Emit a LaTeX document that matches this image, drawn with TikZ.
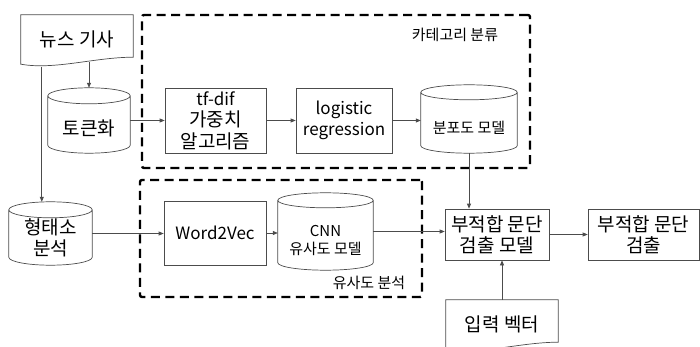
\documentclass[tikz,border=0pt]{standalone}
\usepackage{fontspec}
\setmainfont{Noto Sans CJK KR}
\usetikzlibrary{arrows.meta,calc}

% Latin words inside the large labels are set a little smaller
\newcommand\latin[1]{{\fontsize{17}{21.5}\selectfont #1}}

% cylinder outline around a named node: #1 node, #2 half height of the end ellipses
\newcommand\cyloutline[2]{%
  \draw[line] let \p1=(#1.north west), \p2=(#1.south east) in
    (\x1,\y1-#2) -- (\x1,\y2+#2)
    arc[start angle=180,end angle=360,x radius={(\x2-\x1)/2},y radius=#2]
    -- (\x2,\y1-#2)
    arc[start angle=0,end angle=180,x radius={(\x2-\x1)/2},y radius=#2]
    -- cycle
    (\x1,\y1-#2)
    arc[start angle=180,end angle=360,x radius={(\x2-\x1)/2},y radius=#2];}

% document outline (flat top, wavy bottom) around a named node
\newcommand\docoutline[1]{%
  \draw[line] let \p1=(#1.north west), \p2=(#1.south east) in
    (\x1,\y1) -- (\x2,\y1) -- (\x2,{\y2+7pt})
    .. controls ({\x2-0.34*(\x2-\x1)},{\y2+7pt}) and ({\x1+0.3*(\x2-\x1)},{\y2-6pt}) ..
    (\x1,\y2) -- cycle;}

\tikzset{
  line/.style={draw=black!70, line width=0.7pt},
  arr/.style={line, -{Triangle[length=5pt,width=4pt]}},
  bigtxt/.style={font=\fontsize{19}{21.5}\selectfont, align=center, inner sep=0pt},
  smalltxt/.style={font=\fontsize{15}{18}\selectfont, align=center, inner sep=0pt},
  procbox/.style={line, bigtxt},
  shell/.style={inner sep=0pt},
  grp/.style={draw=black, line width=2.4pt, dash pattern=on 9pt off 5.5pt,
              rounded corners=2pt, inner sep=0pt},
}

\begin{document}
\begin{tikzpicture}[x=1pt,y=-1pt]
\useasboundingbox (0,0) rectangle (700,347);

% dashed groups
\node[grp, minimum width=388pt, minimum height=153pt] (catgrp) at (336,91.5) {};
\node[grp, minimum width=282pt, minimum height=117pt] (simgrp) at (281,238.5) {};
\node[smalltxt] (catlbl) at (455,35) {카테고리 분류};
\node[smalltxt] (simlbl) at (369,283) {유사도 분석};

% documents
\node[shell, bigtxt, minimum width=112pt, minimum height=49pt] (news) at (77,39.5) {뉴스 기사};
\docoutline{news}
\node[shell, bigtxt, minimum width=112pt, minimum height=49pt] (inp) at (502,324.5) {입력 벡터};
\docoutline{inp}

% cylinders
\node[shell, minimum width=82pt, minimum height=65pt,
      label={[bigtxt, yshift=-7.5pt]center:토큰화}] (tok) at (89,120.5) {};
\cyloutline{tok}{8pt}
\node[shell, minimum width=83pt, minimum height=63pt,
      label={[bigtxt, yshift=-4.5pt]center:형태소\\분석}] (morph) at (50.5,233.5) {};
\cyloutline{morph}{8pt}
\node[shell, minimum width=96pt, minimum height=68pt,
      label={[smalltxt, yshift=-9pt]center:분포도 모델}] (dist) at (469,119) {};
\cyloutline{dist}{7.5pt}
\node[shell, minimum width=95pt, minimum height=77pt,
      label={[smalltxt, yshift=-8.5pt]center:CNN\\유사도 모델}] (cnn) at (325.5,231.5) {};
\cyloutline{cnn}{7.5pt}

% process boxes
\node[procbox, minimum width=101pt, minimum height=65pt] (tfidf) at (215.5,120.5) {\latin{tf-dif}\\가중치\\알고리즘};
\node[procbox, minimum width=96pt, minimum height=65pt] (logit) at (344,120.5) {\latin{logistic}\\\latin{regression}};
\node[procbox, minimum width=102pt, minimum height=64pt] (w2v) at (215,233) {\latin{Word2Vec}};
\node[procbox, minimum width=104pt, minimum height=51pt] (model) at (497,234.5) {부적합 문단\\검출 모델};
\node[procbox, minimum width=111pt, minimum height=51pt] (out) at (643.5,234.5) {부적합 문단\\검출};

% connectors
\coordinate (newsleg) at ($(news.south west)+(21,2.5)$);
\draw[arr] (tok.north |- news.south) ++(0,-2) -- (tok.north);
\draw[arr] (newsleg) -- (newsleg |- morph.north);
\draw[arr] (tok.east) -- (tfidf.west);
\draw[arr] (tfidf.east) -- (logit.west);
\draw[arr] (logit.east) -- (logit.east -| dist.west);
\draw[arr] (dist.south) -- (dist.south |- model.north);
\draw[arr] (morph.east) -- (morph.east -| w2v.west);
\draw[arr] (w2v.east) -- (w2v.east -| cnn.west);
\draw[arr] (cnn.east) -- (cnn.east -| model.west);
\draw[arr] (model.east) -- (out.west);
\draw[arr] (inp.north) -- (inp.north |- model.south);
\end{tikzpicture}
\end{document}
